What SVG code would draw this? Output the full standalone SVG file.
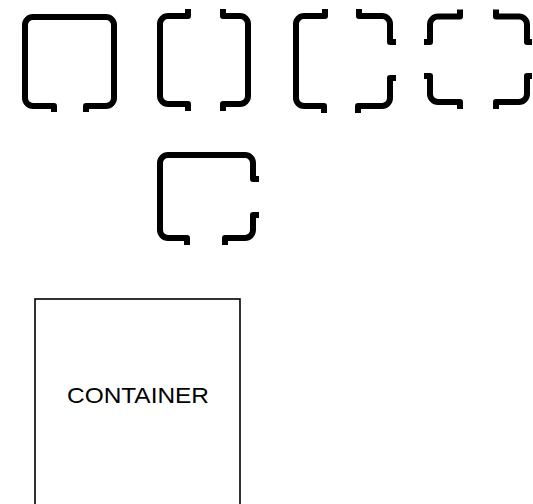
<svg xmlns="http://www.w3.org/2000/svg" width="533" height="504" viewBox="0 0 533 504">
<style>
.sec{fill:none;stroke:#000;stroke-width:6;stroke-linejoin:round;stroke-linecap:butt}
.box{fill:#fff;stroke:#000;stroke-width:1.6}
.lbl{font-family:"Liberation Sans",Arial,sans-serif;font-size:22px;fill:#000}
</style>
<rect width="533" height="504" fill="#fff"/>
<g id="section1">
<path class="sec" d="M 54 112 V 106 H 33 A 8 8 0 0 1 25 98 V 25 A 8 8 0 0 1 33 17 H 106 A 8 8 0 0 1 114 25 V 98 A 8 8 0 0 1 106 106 H 86 V 112"/>
</g>
<g id="section2">
<path class="sec" d="M 188 9 V 16 H 168 A 8 8 0 0 0 160 24 V 96 A 8 8 0 0 0 168 104 H 188 V 111"/>
<path class="sec" d="M 223 9 V 16 H 240 A 8 8 0 0 1 248 24 V 96 A 8 8 0 0 1 240 104 H 223 V 111"/>
</g>
<g id="section3">
<path class="sec" d="M 325 9 V 16 H 304 A 8 8 0 0 0 296 24 V 98 A 8 8 0 0 0 304 106 H 324 V 113"/>
<path class="sec" d="M 359 9 V 16 H 382 A 8 8 0 0 1 390 24 V 42 H 396"/>
<path class="sec" d="M 396 78 H 390 V 98 A 8 8 0 0 1 382 106 H 358 V 113"/>
</g>
<g id="section4">
<path class="sec" d="M 424 42 H 430 V 24.5 A 8 8 0 0 1 438 16.5 H 460 V 9.5"/>
<path class="sec" d="M 496 9.5 V 16.5 H 519 A 8 8 0 0 1 527 24.5 V 42 H 532"/>
<path class="sec" d="M 424 76 H 430 V 94 A 8 8 0 0 0 438 102 H 460 V 109"/>
<path class="sec" d="M 532 76 H 527 V 94 A 8 8 0 0 1 519 102 H 496 V 109"/>
</g>
<g id="section5">
<path class="sec" d="M 259 179 H 253 V 163 A 8 8 0 0 0 245 155 H 168 A 8 8 0 0 0 160 163 V 230 A 8 8 0 0 0 168 238 H 187 V 245"/>
<path class="sec" d="M 259 215 H 253 V 230 A 8 8 0 0 1 245 238 H 225 V 245"/>
</g>
<g id="container">
<rect class="box" x="35" y="299" width="205" height="215"/>
<text class="lbl" x="138" y="403" text-anchor="middle" textLength="142" lengthAdjust="spacingAndGlyphs">CONTAINER</text>
</g>
</svg>
